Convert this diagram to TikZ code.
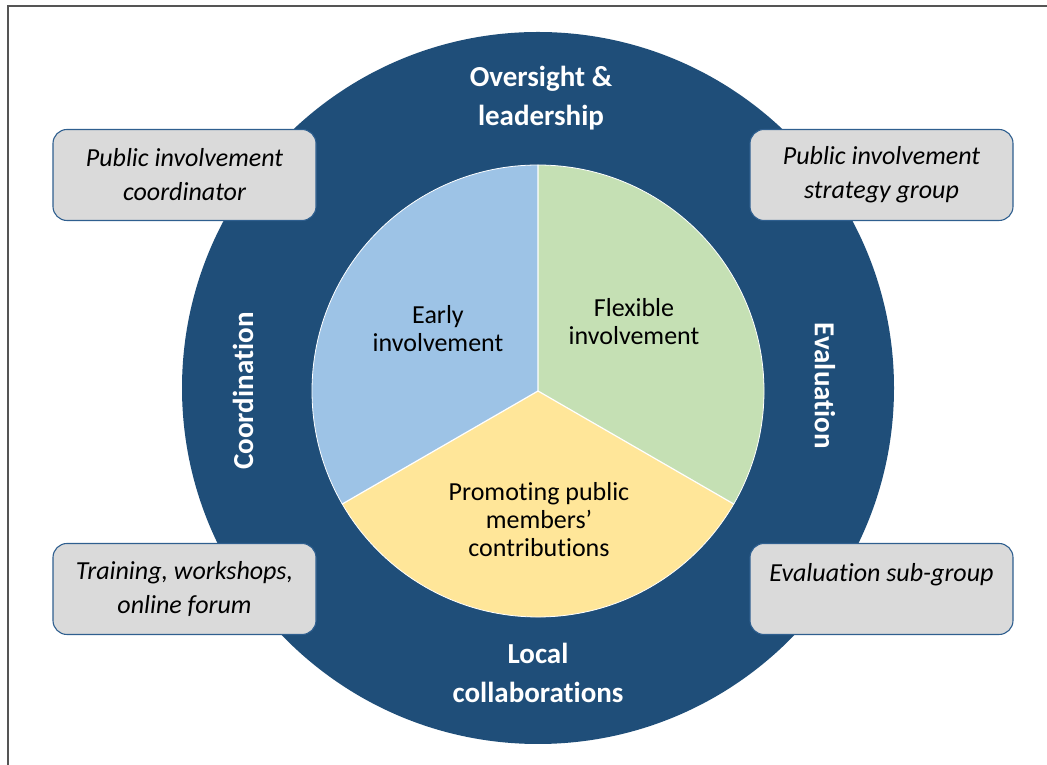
\documentclass[tikz,border=0pt]{standalone}
\usepackage{fontspec}
\setmainfont{Carlito}[Ligatures={NoCommon}]
\definecolor{navy}{HTML}{1F4E79}
\definecolor{pieblue}{HTML}{9DC3E6}
\definecolor{piegreen}{HTML}{C5E0B4}
\definecolor{pieyellow}{HTML}{FFE699}
\definecolor{boxgray}{HTML}{DADADA}
\definecolor{boxedge}{HTML}{2F5F8F}
\definecolor{framegray}{HTML}{555555}
\tikzset{
  infobox/.style={draw=boxedge, line width=1.1pt, fill=boxgray, rounded corners=14pt,
    minimum width=263pt, minimum height=91pt, align=center, inner sep=0pt,
    font=\itshape\fontsize{26}{34}\selectfont},
  slicetext/.style={align=center, inner sep=0pt, font=\fontsize{26}{28}\selectfont},
  ringtext/.style={align=center, inner sep=0pt, text=white, font=\bfseries\fontsize{29}{39}\selectfont},
}
\begin{document}
\begin{tikzpicture}[x=1pt,y=1pt]
\useasboundingbox (0,0) rectangle (1047,765);
% page frame (left and top edges)
\draw[framegray, line width=2pt] (7.5,0) -- (7.5,759) -- (1047,759);
% outer ring
\fill[navy] (538,377) circle (356);
% inner pie with three slices
\coordinate (c) at (538,374);
\fill[pieblue]   (c) -- ++(90:226)  arc (90:210:226)  -- cycle;
\fill[pieyellow] (c) -- ++(210:226) arc (210:330:226) -- cycle;
\fill[piegreen]  (c) -- ++(-30:226) arc (-30:90:226)  -- cycle;
\draw[white, line width=1.2pt] (c) -- ++(90:226) (c) -- ++(210:226) (c) -- ++(330:226);
\draw[white, line width=0.8pt] (c) circle (226);
% slice labels
\node[slicetext] (early) at (438,436) {Early\\involvement};
\node[slicetext] (flex) at (634,443) {Flexible\\involvement};
\node[slicetext] (promo) at (539,245) {Promoting public\\members’\\contributions};
% ring labels
\node[ringtext] (over) at (541,667) {Oversight \&\\leadership};
\node[ringtext] (local) at (538,92) {Local\\collaborations};
\node[ringtext, rotate=90] (coord) at (243,374) {Coordination};
\node[ringtext, rotate=-90] (eval) at (825,379) {Evaluation};
% corner boxes
\node[infobox] (pic) at (184.5,590) {Public involvement\\coordinator};
\node[infobox] (psg) at (881.5,590) {Public involvement\\strategy group};
\node[infobox] (train) at (184.5,176) {Training, workshops,\\online forum};
\node[infobox] (esg) at (881.5,176) {Evaluation sub-group\\\mbox{}};
\end{tikzpicture}
\end{document}
